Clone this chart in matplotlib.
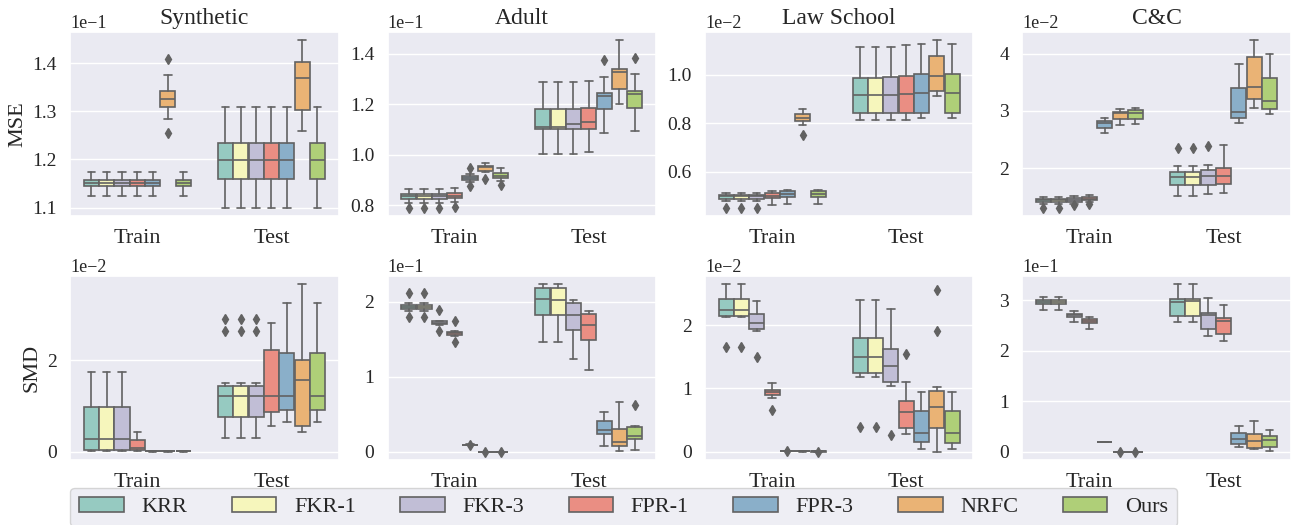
import matplotlib
matplotlib.use("Agg")
import matplotlib.pyplot as plt
import seaborn as sns
from matplotlib.patches import Patch
from matplotlib.ticker import MultipleLocator, ScalarFormatter

methods = ["KRR", "FKR-1", "FKR-3", "FPR-1", "FPR-3", "NRFC", "Ours"]
splits = ["Train", "Test"]
datasets = ["Synthetic", "Adult", "Law School", "C&C"]
mse_scale = [1e-1, 1e-1, 1e-2, 1e-2]
smd_scale = [1e-2, 1e-1, 1e-2, 1e-1]
mse_step = [0.1, 0.2, 0.2, 1.0]
smd_step = [2, 1, 1, 1]

# box stats per method: [whislo, q1, med, q3, whishi], in units of the axis offset
syn_mse_train = [[1.125, 1.145, 1.151, 1.157, 1.174], [1.125, 1.145, 1.151, 1.157, 1.174],
                 [1.125, 1.145, 1.151, 1.157, 1.174], [1.125, 1.145, 1.151, 1.158, 1.174],
                 [1.125, 1.145, 1.151, 1.158, 1.174], [1.283, 1.309, 1.326, 1.343, 1.376],
                 [1.125, 1.145, 1.151, 1.158, 1.174]]
syn_mse_train_fl = [[], [], [], [], [], [1.408, 1.254], []]
syn_mse_test = [[1.100, 1.160, 1.199, 1.235, 1.309], [1.100, 1.160, 1.199, 1.235, 1.309],
                [1.100, 1.160, 1.199, 1.235, 1.309], [1.100, 1.160, 1.199, 1.235, 1.309],
                [1.100, 1.160, 1.199, 1.235, 1.309], [1.259, 1.303, 1.369, 1.403, 1.447],
                [1.100, 1.160, 1.199, 1.235, 1.309]]
syn_mse_test_fl = [[], [], [], [], [], [], []]

adult_mse_train = [[0.810, 0.826, 0.835, 0.844, 0.865], [0.810, 0.826, 0.835, 0.844, 0.865],
                   [0.810, 0.826, 0.835, 0.844, 0.865], [0.812, 0.828, 0.836, 0.848, 0.867],
                   [0.893, 0.901, 0.909, 0.917, 0.922], [0.930, 0.936, 0.949, 0.956, 0.968],
                   [0.897, 0.906, 0.917, 0.926, 0.946]]
adult_mse_train_fl = [[0.790], [0.790], [0.790], [0.792], [0.945, 0.874], [0.904], [0.880]]
adult_mse_test = [[1.003, 1.101, 1.111, 1.180, 1.287], [1.003, 1.101, 1.111, 1.180, 1.287],
                  [1.004, 1.101, 1.120, 1.180, 1.288], [1.009, 1.101, 1.127, 1.183, 1.291],
                  [1.085, 1.180, 1.230, 1.245, 1.309], [1.200, 1.259, 1.327, 1.340, 1.452],
                  [1.094, 1.186, 1.238, 1.252, 1.317]]
adult_mse_test_fl = [[], [], [], [], [1.373], [], [1.381]]

law_mse_train = [[0.479, 0.487, 0.497, 0.505, 0.512], [0.479, 0.487, 0.497, 0.505, 0.512],
                 [0.479, 0.487, 0.497, 0.505, 0.512], [0.460, 0.492, 0.501, 0.510, 0.519],
                 [0.467, 0.494, 0.508, 0.519, 0.525], [0.793, 0.807, 0.822, 0.836, 0.860],
                 [0.467, 0.494, 0.508, 0.519, 0.525]]
law_mse_train_fl = [[0.451], [0.451], [0.451], [], [], [0.749], []]
law_mse_test = [[0.813, 0.840, 0.916, 0.985, 1.115], [0.813, 0.840, 0.916, 0.985, 1.115],
                [0.813, 0.840, 0.916, 0.989, 1.115], [0.813, 0.840, 0.920, 0.996, 1.121],
                [0.820, 0.843, 0.924, 1.005, 1.127], [0.912, 0.931, 0.993, 1.077, 1.142],
                [0.820, 0.843, 0.924, 1.005, 1.127]]
law_mse_test_fl = [[], [], [], [], [], [], []]

cc_mse_train = [[1.371, 1.400, 1.434, 1.457, 1.486], [1.371, 1.400, 1.434, 1.457, 1.486],
                [1.380, 1.410, 1.450, 1.480, 1.510], [1.410, 1.434, 1.463, 1.486, 1.526],
                [2.611, 2.691, 2.794, 2.823, 2.869], [2.743, 2.857, 2.954, 2.983, 3.023],
                [2.771, 2.857, 2.966, 3.011, 3.051]]
cc_mse_train_fl = [[1.309], [1.309], [1.350], [1.370], [], [], []]
cc_mse_test = [[1.509, 1.703, 1.840, 1.931, 2.040], [1.509, 1.703, 1.840, 1.931, 2.040],
               [1.543, 1.703, 1.857, 1.960, 2.050], [1.566, 1.714, 1.857, 1.994, 2.400],
               [2.789, 2.874, 2.971, 3.389, 3.817], [3.051, 3.206, 3.417, 3.943, 4.229],
               [2.937, 3.034, 3.171, 3.571, 4.000]]
cc_mse_test_fl = [[2.343], [2.343], [2.383], [], [], [], []]

syn_smd_train = [[0.014, 0.043, 0.282, 0.975, 1.747], [0.014, 0.043, 0.282, 0.975, 1.747],
                 [0.014, 0.043, 0.282, 0.975, 1.747], [0.007, 0.029, 0.072, 0.253, 0.426],
                 [0.0, 0.003, 0.005, 0.008, 0.012], [0.0, 0.003, 0.005, 0.008, 0.012],
                 [0.0, 0.003, 0.005, 0.008, 0.012]]
syn_smd_train_fl = [[], [], [], [], [], [], []]
syn_smd_test = [[0.296, 0.751, 1.220, 1.444, 1.495], [0.296, 0.751, 1.220, 1.444, 1.495],
                [0.296, 0.751, 1.220, 1.444, 1.495], [0.570, 0.866, 1.220, 2.231, 2.816],
                [0.657, 0.917, 1.220, 2.159, 3.242], [0.426, 0.556, 1.560, 2.014, 3.661],
                [0.657, 0.917, 1.220, 2.159, 3.242]]
syn_smd_test_fl = [[2.900, 2.628], [2.900, 2.628], [2.900, 2.628], [], [], [], []]

adult_smd_train = [[1.881, 1.903, 1.934, 1.956, 1.978], [1.881, 1.903, 1.934, 1.956, 1.978],
                   [1.687, 1.700, 1.722, 1.740, 1.749], [1.542, 1.555, 1.577, 1.590, 1.608],
                   [0.085, 0.088, 0.090, 0.092, 0.095], [0.0, 0.0, 0.0, 0.0, 0.0],
                   [0.0, 0.0, 0.0, 0.0, 0.0]]
adult_smd_train_fl = [[2.123, 1.802], [2.123, 1.802], [1.890, 1.604], [1.744, 1.467],
                      [0.092], [0.0], [0.0]]
adult_smd_test = [[1.463, 1.824, 2.031, 2.189, 2.233], [1.463, 1.824, 2.025, 2.180, 2.233],
                  [1.229, 1.626, 1.828, 1.982, 2.026], [1.084, 1.493, 1.687, 1.837, 1.881],
                  [0.075, 0.229, 0.286, 0.405, 0.529], [0.013, 0.075, 0.128, 0.295, 0.656],
                  [0.018, 0.163, 0.207, 0.326, 0.339]]
adult_smd_test_fl = [[], [], [], [], [], [], [0.626]]

law_smd_train = [[2.125, 2.141, 2.240, 2.412, 2.648], [2.125, 2.141, 2.240, 2.412, 2.648],
                 [1.916, 1.943, 2.031, 2.178, 2.386], [0.846, 0.888, 0.935, 0.976, 1.081],
                 [0.005, 0.008, 0.010, 0.012, 0.015], [0.0, 0.003, 0.005, 0.007, 0.010],
                 [0.0, 0.0, 0.003, 0.005, 0.008]]
law_smd_train_fl = [[1.655], [1.655], [1.499], [0.663], [0.012], [], [0.0]]
law_smd_test = [[1.185, 1.238, 1.499, 1.791, 2.397], [1.185, 1.238, 1.499, 1.791, 2.397],
                [1.039, 1.097, 1.358, 1.629, 2.251], [0.282, 0.366, 0.621, 0.804, 1.097],
                [0.037, 0.157, 0.287, 0.637, 0.950], [0.0, 0.376, 0.705, 0.966, 1.029],
                [0.047, 0.141, 0.298, 0.648, 0.945]]
law_smd_test_fl = [[0.386], [0.386], [0.261], [1.551], [], [2.559, 1.916], []]

cc_smd_train = [[2.818, 2.929, 2.968, 3.014, 3.059], [2.818, 2.929, 2.968, 3.014, 3.059],
                [2.570, 2.668, 2.707, 2.740, 2.785], [2.440, 2.544, 2.583, 2.622, 2.668],
                [0.185, 0.187, 0.189, 0.191, 0.193], [0.0, 0.0, 0.0, 0.0, 0.0],
                [0.0, 0.0, 0.0, 0.0, 0.0]]
cc_smd_train_fl = [[], [], [], [], [], [0.0], [0.0]]
cc_smd_test = [[2.570, 2.700, 2.968, 3.027, 3.320], [2.570, 2.700, 2.980, 3.027, 3.320],
               [2.296, 2.440, 2.707, 2.753, 3.046], [2.185, 2.329, 2.590, 2.642, 2.916],
               [0.098, 0.157, 0.241, 0.372, 0.502], [0.046, 0.078, 0.209, 0.352, 0.600],
               [0.020, 0.085, 0.228, 0.307, 0.424]]
cc_smd_test_fl = [[], [], [], [], [], [], []]

mse_panels = [(syn_mse_train, syn_mse_train_fl, syn_mse_test, syn_mse_test_fl),
              (adult_mse_train, adult_mse_train_fl, adult_mse_test, adult_mse_test_fl),
              (law_mse_train, law_mse_train_fl, law_mse_test, law_mse_test_fl),
              (cc_mse_train, cc_mse_train_fl, cc_mse_test, cc_mse_test_fl)]
smd_panels = [(syn_smd_train, syn_smd_train_fl, syn_smd_test, syn_smd_test_fl),
              (adult_smd_train, adult_smd_train_fl, adult_smd_test, adult_smd_test_fl),
              (law_smd_train, law_smd_train_fl, law_smd_test, law_smd_test_fl),
              (cc_smd_train, cc_smd_train_fl, cc_smd_test, cc_smd_test_fl)]

sns.set_theme(style="darkgrid")
plt.rcParams["font.family"] = ["Liberation Serif", "DejaVu Serif"]

colors = sns.color_palette("Set3", 7, desat=0.75)
gray = "#626262"
n = len(methods)
each = 0.8 / n
lw = 1.2


def draw_panel(ax, panel, scale, step):
    for i, split in enumerate(splits):
        stats_list = panel[0] if i == 0 else panel[2]
        fliers = panel[1] if i == 0 else panel[3]
        for k in range(n):
            s = stats_list[k]
            st = dict(whislo=s[0] * scale, q1=s[1] * scale, med=s[2] * scale,
                      q3=s[3] * scale, whishi=s[4] * scale,
                      fliers=[f * scale for f in fliers[k]])
            pos = i - 0.4 + each * (k + 0.5)
            ax.bxp([st], positions=[pos], widths=[each * 0.98], patch_artist=True,
                   manage_ticks=False,
                   boxprops=dict(facecolor=colors[k], edgecolor=gray, linewidth=lw),
                   medianprops=dict(color=gray, linewidth=lw),
                   whiskerprops=dict(color=gray, linewidth=lw),
                   capprops=dict(color=gray, linewidth=lw),
                   flierprops=dict(marker="d", markerfacecolor=gray,
                                   markeredgecolor=gray, markersize=5))
    ax.set_xlim(-0.5, 1.5)
    ax.set_xticks([0, 1])
    ax.set_xticklabels(splits, fontsize=16)
    ax.xaxis.grid(False)
    ax.yaxis.set_major_locator(MultipleLocator(step * scale))
    fmt = ScalarFormatter()
    fmt.set_powerlimits((0, 0))
    ax.yaxis.set_major_formatter(fmt)
    ax.yaxis.get_offset_text().set_fontsize(13)
    ax.tick_params(axis="y", labelsize=14)


fig, axes = plt.subplots(2, 4, figsize=(13.01, 5.25), dpi=100)
fig.subplots_adjust(left=0.054, right=0.992, top=0.939, bottom=0.124,
                    wspace=0.183, hspace=0.326)

for j in range(4):
    draw_panel(axes[0, j], mse_panels[j], mse_scale[j], mse_step[j])
    draw_panel(axes[1, j], smd_panels[j], smd_scale[j], smd_step[j])
    axes[0, j].set_title(datasets[j], fontsize=17, pad=6)

axes[0, 0].set_ylabel("MSE", fontsize=16)
axes[1, 0].set_ylabel("SMD", fontsize=16)

handles = [Patch(facecolor=colors[k], edgecolor=gray, linewidth=lw, label=m)
           for k, m in enumerate(methods)]
fig.legend(handles=handles, ncol=7, loc="upper left", bbox_to_anchor=(0.054, 0.071),
           borderaxespad=0, fontsize=16, handlelength=2.0, handletextpad=0.8,
           columnspacing=2.0, frameon=True)

fig.savefig("out.png", dpi=100)
